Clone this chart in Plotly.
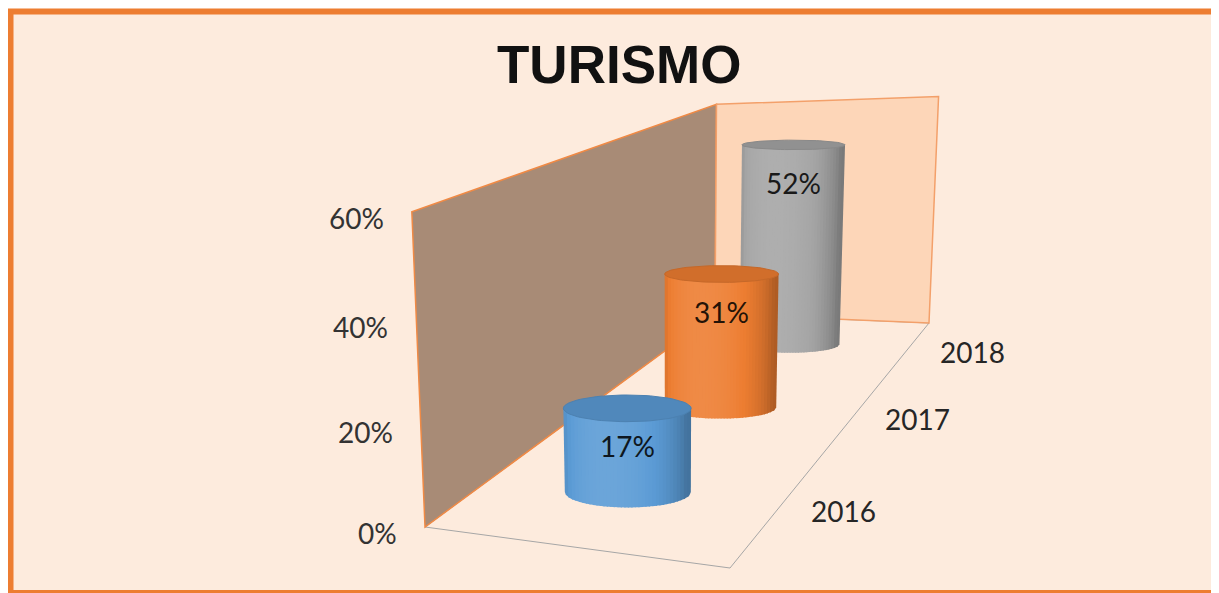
import numpy as np
import plotly.graph_objects as go

# ---------------- data ----------------
years = ["2016", "2017", "2018"]
values = [0.17, 0.31, 0.52]
value_labels = ["17%", "31%", "52%"]
bar_colors = ["#5B9BD5", "#ED7D31", "#A5A5A5"]
tick_values = [0.0, 0.2, 0.4, 0.6]
tick_labels = ["0%", "20%", "40%", "60%"]
title_text = "TURISMO"

# ---------------- 3D frame geometry (figure pixel space) ----------------
W, D, ZMAX = 0.7, 3.0, 0.6      # floor width, depth (one slot per year), value max
R = 0.155                        # cylinder radius (world units)
XC = W / 2.0

floor_world = [(0, 0), (W, 0), (W, D), (0, D)]
floor_px = [(417, 519), (722, 560), (921, 315), (707, 306)]
top_world = [(0, 0), (0, D), (W, D)]
top_px = [(407, 212), (707, 85), (930, 95)]


def homography(src, dst):
    A, b = [], []
    for (x, y), (u, v) in zip(src, dst):
        A.append([x, y, 1, 0, 0, 0, -u * x, -u * y]); b.append(u)
        A.append([0, 0, 0, x, y, 1, -v * x, -v * y]); b.append(v)
    h = np.linalg.solve(np.array(A, float), np.array(b, float))
    return np.array([[h[0], h[1], h[2]], [h[3], h[4], h[5]], [h[6], h[7], 1.0]])


H = homography(floor_world, floor_px)
A, b = [], []
for (X, Y), (px, py) in zip(top_world, top_px):
    a0, b0, c0 = H @ np.array([X, Y, 1.0])
    Z = ZMAX
    A.append([Z, 0, -px * Z]); b.append(px * c0 - a0)
    A.append([0, Z, -py * Z]); b.append(py * c0 - b0)
HZ = np.linalg.lstsq(np.array(A), np.array(b), rcond=None)[0]


def proj(X, Y, Z):
    u, v, w = H @ np.array([X, Y, 1.0]) + Z * HZ
    return u / w, v / w


def hexrgb(c):
    c = c.lstrip("#")
    return np.array([int(c[i:i + 2], 16) for i in (0, 2, 4)], float)


def rgbstr(a):
    a = np.clip(a, 0, 255)
    return "rgb(%d,%d,%d)" % tuple(int(round(x)) for x in a)


def shade(base, k):
    if k <= 1:
        return rgbstr(base * k)
    return rgbstr(base + (255 - base) * (k - 1))


fig = go.Figure()

PEACH = "#FDEBDD"
ORANGE = "#ED7D31"

shapes = []
# outer frame: peach panel + orange border on left, top and bottom
shapes.append(dict(type="rect", x0=2.5, y0=3.5, x1=1400, y1=585, xref="x", yref="y",
                   line=dict(width=0), fillcolor=PEACH, layer="below"))
shapes.append(dict(type="path", path="M 1400,3.5 L 2.5,3.5 L 2.5,585 L 1400,585",
                   xref="x", yref="y", line=dict(color=ORANGE, width=6),
                   fillcolor="rgba(0,0,0,0)", layer="below"))


def poly_path(pts):
    return "M " + " L ".join("%.2f,%.2f" % p for p in pts) + " Z"


# floor outline
FL, FR, BR, BL = [proj(x, y, 0) for x, y in floor_world]
shapes.append(dict(type="path", path=poly_path([FL, FR, BR, BL]), xref="x", yref="y",
                   line=dict(color="#A6A6A6", width=1), fillcolor="rgba(0,0,0,0)", layer="below"))
# left wall
FLt, BLt, BRt = proj(0, 0, ZMAX), proj(0, D, ZMAX), proj(W, D, ZMAX)
shapes.append(dict(type="path", path=poly_path([FL, FLt, BLt, BL]), xref="x", yref="y",
                   line=dict(color="#F08A45", width=1.5), fillcolor="#A88B76", layer="below"))
# back wall
shapes.append(dict(type="path", path=poly_path([BL, BLt, BRt, BR]), xref="x", yref="y",
                   line=dict(color="#F3A06A", width=1.5), fillcolor="#FDD6B8", layer="below"))

# ---------------- cylinders (back to front) ----------------
N = 36
light = np.array([-0.35, 1.0]); light /= np.linalg.norm(light)
annotations = []
for i in reversed(range(len(years))):
    v = values[i]
    base = hexrgb(bar_colors[i])
    yc = i + 0.5
    xb, yb = proj(XC, yc, 0)
    xt, yt = proj(XC, yc, v)
    ab = (proj(XC + R, yc, 0)[0] - proj(XC - R, yc, 0)[0]) / 2
    bb = (proj(XC, yc - R, 0)[1] - proj(XC, yc + R, 0)[1]) / 2
    at = (proj(XC + R, yc, v)[0] - proj(XC - R, yc, v)[0]) / 2
    bt = (proj(XC, yc - R, v)[1] - proj(XC, yc + R, v)[1]) / 2
    edges = np.linspace(-1, 1, N + 1)
    for j in range(N):
        s0, s1 = edges[j], min(1.0, edges[j + 1] + 0.02)
        sm = 0.5 * (s0 + s1)
        n = np.array([sm, np.sqrt(max(0.0, 1 - sm * sm))])
        k = 0.74 + 0.36 * max(0.0, float(n @ light))
        ss = np.linspace(s0, s1, 6)
        xs = list(xt + at * ss) + list(xb + ab * ss[::-1])
        ys = [yt] * len(ss) + list(yb + bb * np.sqrt(np.clip(1 - ss[::-1] ** 2, 0, 1)))
        fig.add_trace(go.Scatter(x=xs, y=ys, mode="lines", fill="toself",
                                 fillcolor=shade(base, k), line=dict(width=0),
                                 hoverinfo="skip", showlegend=False))
    t = np.linspace(0, 2 * np.pi, 80)
    fig.add_trace(go.Scatter(x=xt + at * np.cos(t), y=yt + bt * np.sin(t), mode="lines",
                             fill="toself", fillcolor=shade(base, 0.88),
                             line=dict(width=1, color=shade(base, 0.83)),
                             hoverinfo="skip", showlegend=False))
    annotations.append(dict(x=xt, y=yt, xref="x", yref="y", text=value_labels[i],
                            showarrow=False, yshift=-38,
                            font=dict(family="Lato", size=28, color=rgbstr(base * 0.15))))

# ---------------- axis labels ----------------
for tv, tl in zip(tick_values, tick_labels):
    px, py = proj(0, 0, tv)
    annotations.append(dict(x=px, y=py, xref="x", yref="y", text=tl, showarrow=False,
                            xanchor="right", xshift=-26, yshift=-6,
                            font=dict(family="Lato", size=28, color="#333333")))
for i, yr in enumerate(years):
    px, py = proj(W, i + 0.5, 0)
    annotations.append(dict(x=px, y=py, xref="x", yref="y", text=yr, showarrow=False,
                            xanchor="left", xshift=31, yshift=-2,
                            font=dict(family="Lato", size=28, color="#262626")))

annotations.append(dict(x=611, y=56, xref="x", yref="y", text="<b>%s</b>" % title_text,
                        showarrow=False, font=dict(family="Liberation Sans", size=53, color="#111111")))

fig.update_layout(
    width=1219, height=593, margin=dict(l=0, r=0, t=0, b=0),
    paper_bgcolor="white", plot_bgcolor="white",
    xaxis=dict(range=[0, 1219], visible=False, fixedrange=True),
    yaxis=dict(range=[593, 0], visible=False, fixedrange=True),
    shapes=shapes, annotations=annotations, showlegend=False,
)
fig.write_html("out.html")
